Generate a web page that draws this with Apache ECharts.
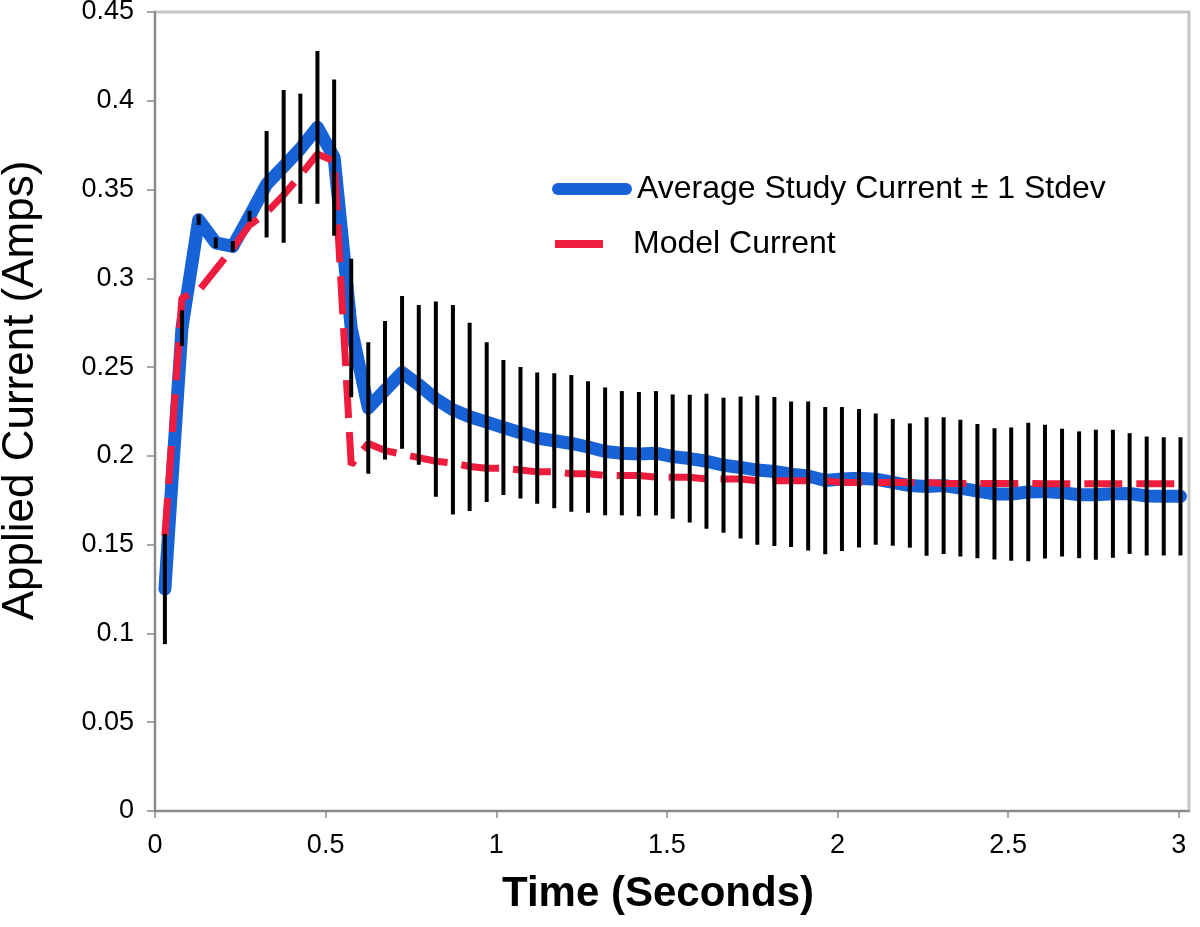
<!DOCTYPE html>
<html>
<head>
<meta charset="utf-8">
<script src="https://cdn.jsdelivr.net/npm/echarts@6/dist/echarts.min.js"></script>
<style>
html,body{margin:0;padding:0;background:#fff;}
#chart{width:1200px;height:927px;}
</style>
</head>
<body>
<div id="chart"></div>
<script>
// Time of each sample (seconds)
const timeSec = [0.029,0.079,0.128,0.178,0.228,0.277,0.327,0.377,0.426,0.476,
  0.525,0.575,0.625,0.674,0.724,0.773,0.823,0.873,0.922,0.972,
  1.021,1.071,1.120,1.170,1.220,1.269,1.319,1.368,1.418,1.468,
  1.517,1.567,1.616,1.666,1.716,1.765,1.815,1.864,1.914,1.964,
  2.013,2.063,2.112,2.162,2.212,2.261,2.311,2.360,2.410,2.460,
  2.509,2.559,2.608,2.658,2.708,2.757,2.807,2.856,2.906,2.956,3.005];
// Average study current (Amps)
const meanCurrent = [0.125,0.272,0.333,0.320,0.318,0.335,0.353,0.363,0.373,0.385,
  0.368,0.272,0.227,0.237,0.247,0.240,0.232,0.226,0.222,0.219,
  0.216,0.213,0.210,0.2085,0.207,0.205,0.2025,0.2015,0.201,0.2015,
  0.1996,0.1985,0.197,0.1947,0.1935,0.192,0.1912,0.1897,0.1887,0.1861,
  0.187,0.1874,0.1869,0.1851,0.1833,0.1827,0.1833,0.1818,0.1801,0.1786,
  0.1785,0.1797,0.1799,0.1793,0.1781,0.1781,0.1787,0.1788,0.1774,0.1772,0.1772];
// Standard deviation of study current (Amps)
const stdevCurrent = [0.031,0.010,0.003,0.003,0.003,0.003,0.030,0.043,0.031,0.043,
  0.044,0.039,0.037,0.039,0.043,0.045,0.055,0.059,0.053,0.045,
  0.038,0.037,0.037,0.038,0.0385,0.037,0.036,0.035,0.035,0.035,
  0.035,0.036,0.038,0.038,0.040,0.042,0.042,0.041,0.042,0.0415,
  0.0405,0.039,0.037,0.0357,0.035,0.039,0.0385,0.0385,0.0378,0.037,
  0.0375,0.039,0.0377,0.036,0.0357,0.0366,0.036,0.034,0.0335,0.0333,0.0333];
// Model current (Amps)
const modelCurrent = [0.155,0.289,0.293,0.305,0.317,0.330,0.337,0.347,0.358,0.370,
  0.366,0.195,0.207,0.203,0.201,0.199,0.197,0.196,0.194,0.193,
  0.193,0.192,0.191,0.191,0.190,0.190,0.189,0.189,0.189,0.188,
  0.188,0.188,0.187,0.187,0.187,0.186,0.186,0.186,0.186,0.186,
  0.185,0.185,0.185,0.185,0.185,0.185,0.1845,0.1845,0.1845,0.1845,
  0.1845,0.1845,0.1843,0.1843,0.1843,0.1843,0.1843,0.1843,0.1843,0.1843,0.1843];

const seriesNames = ['Average Study Current \u00b1 1 Stdev', 'Model Current'];
const xTitle = 'Time (Seconds)';
const yTitle = 'Applied Current (Amps)';

const FONT = "'Liberation Sans', Arial, Helvetica, sans-serif";
const BLUE = '#1862d8';
const RED = '#ef1c3e';

const chart = echarts.init(document.getElementById('chart'), null, {renderer: 'canvas'});

const option = {
  animation: false,
  backgroundColor: '#ffffff',
  grid: {
    left: 155, right: 11, top: 12, bottom: 116,
    outerBoundsMode: 'none', containLabel: false,
    show: true, borderColor: '#c6c8c8', borderWidth: 3, backgroundColor: 'transparent'
  },
  legend: [
    {
      data: [seriesNames[0]],
      left: 552, top: 172, padding: 0,
      icon: 'path://M6,0L74,0A6,6,0,0,1,74,12L6,12A6,6,0,0,1,6,0Z',
      itemWidth: 80, itemHeight: 12,
      selectedMode: false,
      textStyle: {fontFamily: FONT, fontSize: 32, color: '#000', lineHeight: 34}
    },
    {
      data: [seriesNames[1]],
      left: 555, top: 227, padding: 0,
      icon: 'rect',
      itemWidth: 48, itemHeight: 8,
      selectedMode: false,
      textStyle: {fontFamily: FONT, fontSize: 32, color: '#000', lineHeight: 34, padding: [0, 0, 0, 25]}
    }
  ],
  xAxis: {
    type: 'value', min: 0, max: 3.03, interval: 0.5,
    name: xTitle, nameLocation: 'middle', nameGap: 62,
    nameTextStyle: {fontFamily: FONT, fontSize: 42, fontWeight: 'bold', color: '#000', padding: [0, 28, 0, 0]},
    axisLine: {show: true, onZero: false, lineStyle: {color: '#8a8a8a', width: 2}},
    axisTick: {show: true, length: 7, lineStyle: {color: '#8a8a8a', width: 1.5}},
    axisLabel: {
      fontFamily: FONT, fontSize: 27, color: '#000', margin: 21,
      showMaxLabel: false,
      formatter: v => (Math.abs(v / 0.5 - Math.round(v / 0.5)) < 1e-6 ? String(+v.toFixed(2)) : '')
    },
    splitLine: {show: false}
  },
  yAxis: {
    type: 'value', min: 0, max: 0.45, interval: 0.05,
    name: yTitle, nameLocation: 'middle', nameGap: 112,
    nameTextStyle: {fontFamily: FONT, fontSize: 44, color: '#000', padding: [0, 0, 0, 42]},
    axisLine: {show: true, onZero: false, lineStyle: {color: '#8a8a8a', width: 2}},
    axisTick: {show: true, length: 8, lineStyle: {color: '#8a8a8a', width: 1.5}},
    axisLabel: {
      fontFamily: FONT, fontSize: 27, color: '#000', margin: 21,
      formatter: v => String(+v.toFixed(2))
    },
    splitLine: {show: false}
  },
  series: [
    {
      name: seriesNames[0], type: 'line', symbol: 'none', z: 2,
      data: timeSec.map((t, i) => [t, meanCurrent[i]]),
      lineStyle: {color: BLUE, width: 13, cap: 'round', join: 'round'},
      itemStyle: {color: BLUE}
    },
    {
      name: seriesNames[1], type: 'line', symbol: 'none', z: 3,
      data: timeSec.map((t, i) => [t, modelCurrent[i]]),
      lineStyle: {color: RED, width: 7, type: [38, 14]},
      itemStyle: {color: RED}
    },
    {
      name: 'Stdev', type: 'custom', z: 4,
      data: timeSec.map((t, i) => [t, meanCurrent[i], stdevCurrent[i]]),
      encode: {x: 0, y: 1},
      renderItem: function (params, api) {
        const x = api.value(0), m = api.value(1), s = api.value(2);
        const p1 = api.coord([x, m - s]);
        const p2 = api.coord([x, m + s]);
        return {
          type: 'line',
          shape: {x1: p1[0], y1: p1[1], x2: p2[0], y2: p2[1]},
          style: {stroke: '#000000', lineWidth: 4}
        };
      }
    }
  ]
};

chart.setOption(option);
</script>
</body>
</html>
